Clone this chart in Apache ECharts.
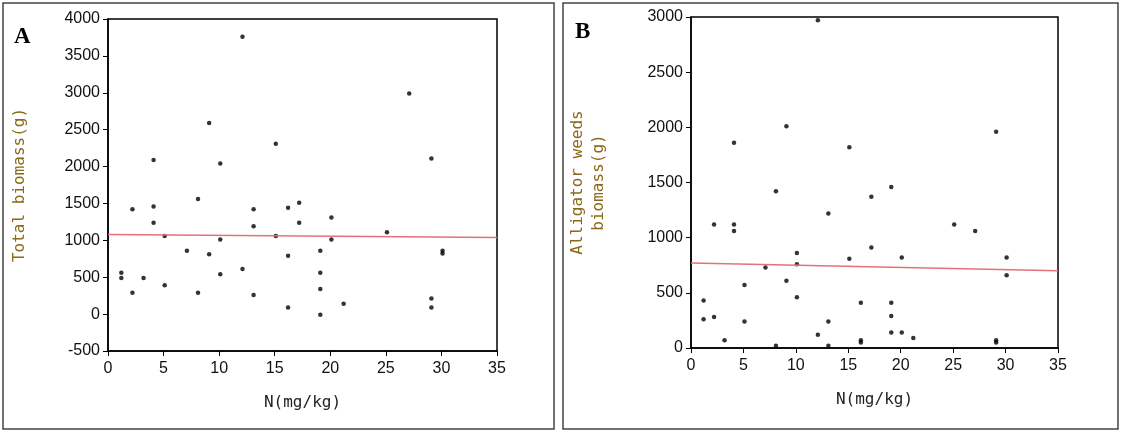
<!DOCTYPE html>
<html>
<head>
<meta charset="utf-8">
<script src="https://cdn.jsdelivr.net/npm/echarts@6/dist/echarts.min.js"></script>
<style>
  html, body { margin: 0; padding: 0; background: #fff; }
  #chart { width: 1121px; height: 432px; }
</style>
</head>
<body>
<div id="chart"></div>
<script>
// panel A: total biomass vs N
const totalPoints = [
  [1.2, 560], [1.2, 490], [2.2, 1420], [2.2, 290], [3.2, 490], [4.1, 2090], [4.1, 1460],
  [4.1, 1240], [5.1, 1060], [5.1, 390], [7.1, 860], [8.1, 1560], [8.1, 290], [9.1, 2590],
  [9.1, 810], [10.1, 2040], [10.1, 1010], [10.1, 540], [12.1, 3760], [12.1, 610],
  [13.1, 1420], [13.1, 1190], [13.1, 260], [15.1, 2310], [15.1, 1060], [16.2, 1440],
  [16.2, 790], [16.2, 90], [17.2, 1510], [17.2, 1240], [19.1, 860], [19.1, 560],
  [19.1, 340], [19.1, -10], [20.1, 1310], [20.1, 1010], [21.2, 140], [25.1, 1110],
  [27.1, 2990], [29.1, 2110], [29.1, 210], [29.1, 90], [30.1, 860], [30.1, 820]
]
const totalTrend = [[0, 1080], [35, 1040]]

// panel B: alligator weeds biomass vs N
const weedPoints = [
  [1.2, 430], [1.2, 260], [2.2, 1120], [2.2, 280], [3.2, 70], [4.1, 1860], [4.1, 1120],
  [4.1, 1060], [5.1, 570], [5.1, 240], [7.1, 730], [8.1, 1420], [8.1, 20], [9.1, 2010],
  [9.1, 610], [10.1, 860], [10.1, 760], [10.1, 460], [12.1, 2970], [12.1, 120],
  [13.1, 1220], [13.1, 240], [13.1, 20], [15.1, 1820], [15.1, 810], [16.2, 410],
  [16.2, 70], [16.2, 50], [17.2, 1370], [17.2, 910], [19.1, 1460], [19.1, 410],
  [19.1, 290], [19.1, 140], [20.1, 820], [20.1, 140], [21.2, 90], [25.1, 1120],
  [27.1, 1060], [29.1, 1960], [29.1, 70], [29.1, 50], [30.1, 820], [30.1, 660]
]
const weedTrend = [[0, 770], [35, 700]]

const tickFont = {
  color: '#111', fontSize: 16,
  fontFamily: 'Liberation Sans Narrow, Liberation Sans, sans-serif',
  formatter: v => String(v),
}
const titleFont = {fontSize: 16, fontFamily: 'DejaVu Sans Mono, monospace'}

function xAxis (gridIndex) {
  return {
    gridIndex, type: 'value', min: 0, max: 35, interval: 5,
    name: 'N(mg/kg)', nameLocation: 'middle', nameGap: 44,
    nameTextStyle: Object.assign({color: '#222'}, titleFont),
    axisLine: {onZero: false, lineStyle: {color: '#000', width: 1.5}},
    axisTick: {lineStyle: {color: '#000'}, length: 5},
    axisLabel: Object.assign({margin: 10}, tickFont),
    splitLine: {show: false},
  }
}

function yAxis (gridIndex, min, max, name, gap) {
  return {
    gridIndex, type: 'value', min, max, interval: 500,
    name, nameLocation: 'middle', nameGap: gap,
    nameTextStyle: Object.assign({color: '#8a6a1a', lineHeight: 21}, titleFont),
    axisLine: {onZero: false, lineStyle: {color: '#000', width: 1.5}},
    axisTick: {lineStyle: {color: '#000'}, length: 5},
    axisLabel: tickFont,
    splitLine: {show: false},
  }
}

const chart = echarts.init(document.getElementById('chart'))
chart.setOption({
  animation: false,
  backgroundColor: '#fff',
  grid: [
    {left: 108, top: 19, width: 389, height: 332, show: true, borderColor: '#000', borderWidth: 1.5},
    {left: 691, top: 17, width: 367, height: 331, show: true, borderColor: '#000', borderWidth: 1.5},
  ],
  xAxis: [xAxis(0), xAxis(1)],
  yAxis: [
    yAxis(0, -500, 4000, 'Total biomass(g)', 78),
    yAxis(1, 0, 3000, 'Alligator weeds\nbiomass(g)', 82),
  ],
  graphic: [
    {type: 'rect', shape: {x: 3, y: 3, width: 551, height: 426}, style: {fill: 'none', stroke: '#444', lineWidth: 1.5}},
    {type: 'rect', shape: {x: 563, y: 3, width: 555, height: 426}, style: {fill: 'none', stroke: '#444', lineWidth: 1.5}},
    {type: 'text', left: 14, top: 26, style: {text: 'A', font: 'bold 23px Liberation Serif', fill: '#000'}},
    {type: 'text', left: 575, top: 21, style: {text: 'B', font: 'bold 23px Liberation Serif', fill: '#000'}},
  ],
  series: [
    {type: 'scatter', xAxisIndex: 0, yAxisIndex: 0, data: totalPoints, symbolSize: 4.5, itemStyle: {color: '#000'}},
    {type: 'line', xAxisIndex: 0, yAxisIndex: 0, data: totalTrend, symbol: 'none', lineStyle: {color: '#e5707a', width: 1.5}},
    {type: 'scatter', xAxisIndex: 1, yAxisIndex: 1, data: weedPoints, symbolSize: 4.5, itemStyle: {color: '#000'}},
    {type: 'line', xAxisIndex: 1, yAxisIndex: 1, data: weedTrend, symbol: 'none', lineStyle: {color: '#e5707a', width: 1.5}},
  ],
})
</script>
</body>
</html>
